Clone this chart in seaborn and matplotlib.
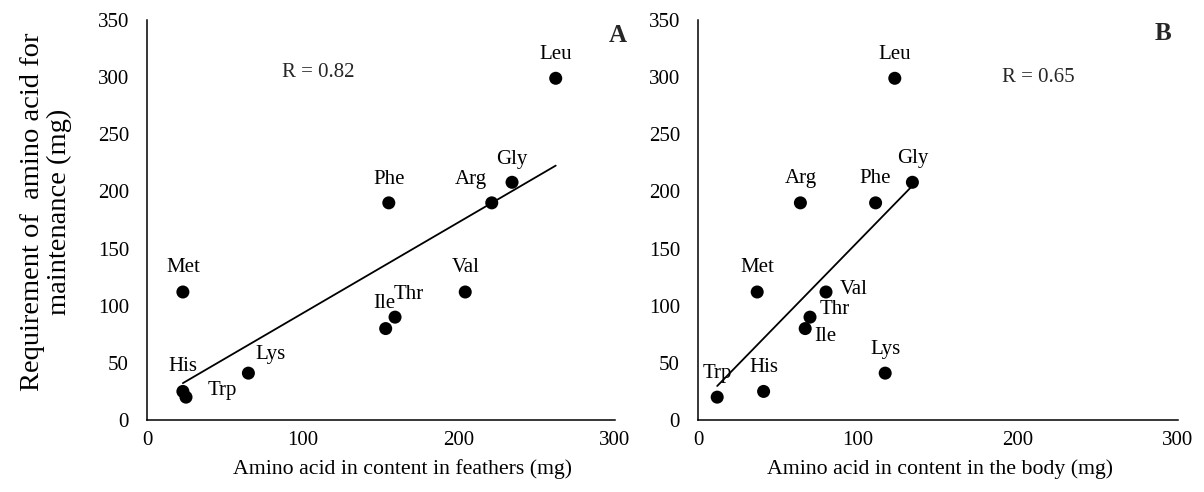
import numpy as np
import pandas as pd
import seaborn as sns
import matplotlib.pyplot as plt

# ---- data ----
amino = ["Leu", "Gly", "Arg", "Phe", "Met", "Val", "Thr", "Ile", "Lys", "His", "Trp"]
requirement = [299, 208, 190, 190, 112, 112, 90, 80, 41, 25, 20]
feathers = [262, 234, 221, 155, 23, 204, 159, 153, 65, 23, 25]
body = [123, 134, 64, 111, 37, 80, 70, 67, 117, 41, 12]
r_text_a = "R = 0.82"
r_text_b = "R = 0.65"
xticks = [0, 100, 200, 300]
yticks = [0, 50, 100, 150, 200, 250, 300, 350]

# label offsets (pixels) per amino acid -- style only
off_a = {"Leu": (0, 24), "Gly": (0, 23), "Arg": (-21, 23), "Phe": (0, 23),
         "Met": (0, 24), "Val": (0, 24), "Thr": (14, 23), "Ile": (-1, 25),
         "Lys": (22, 19), "His": (0, 25), "Trp": (36, 7)}
off_b = {"Leu": (0, 24), "Gly": (0, 24), "Arg": (0, 24), "Phe": (0, 24),
         "Met": (0, 25), "Val": (28, 2), "Thr": (25, 8), "Ile": (20, -8),
         "Lys": (0, 24), "His": (0, 24), "Trp": (0, 24)}

df = pd.DataFrame({"amino": amino, "req": requirement, "feathers": feathers, "body": body})

sns.set_theme(style="white")
plt.rcParams["font.family"] = ["Liberation Serif", "DejaVu Serif"]

W, H = 1204, 492
fig = plt.figure(figsize=(W / 100, H / 100), dpi=100)
axA = fig.add_axes([147 / W, 72 / H, 468 / W, 400 / H])
axB = fig.add_axes([698 / W, 72 / H, 480 / W, 400 / H])

FS = 15

def panel(ax, xcol, offs, rtext, rpos, letter, xlabel, xlab_pos):
    sns.regplot(data=df, x=xcol, y="req", ax=ax, ci=None, truncate=True,
                scatter_kws=dict(s=88, color="black", edgecolor="none", alpha=1),
                line_kws=dict(color="black", lw=1.3))
    for _, row in df.iterrows():
        dx, dy = offs[row["amino"]]
        ax.annotate(row["amino"], (row[xcol], row["req"]), xytext=(dx, dy),
                    textcoords="offset pixels", ha="center", va="center",
                    fontsize=FS, color="black")
    ax.set_xlim(0, 300)
    ax.set_ylim(0, 350)
    ax.set_xticks(xticks)
    ax.set_yticks(yticks)
    ax.tick_params(axis="x", labelsize=FS, length=0, pad=8, colors="black")
    ax.tick_params(axis="y", labelsize=FS, length=0, pad=13, colors="black")
    for s in ["top", "right"]:
        ax.spines[s].set_visible(False)
    for s in ["left", "bottom"]:
        ax.spines[s].set_color("black")
        ax.spines[s].set_linewidth(1.1)
    ax.set_xlabel(xlabel, fontsize=15.7, color="black")
    ax.xaxis.set_label_coords(xlab_pos, -0.098)
    ax.text(rpos[0], rpos[1], rtext, fontsize=FS, ha="center", va="center")
    ax.text(letter[1], letter[2], letter[0], transform=ax.transAxes, fontsize=18,
            fontweight="bold", ha="center", va="center")

panel(axA, "feathers", off_a, r_text_a, (110, 304), ("A", 1.005, 0.962),
      "Amino acid in content in feathers (mg)", 0.545)
panel(axB, "body", off_b, r_text_b, (213, 300), ("B", 0.968, 0.965),
      "Amino acid in content in the body (mg)", 0.505)
axA.set_ylabel("")
axB.set_ylabel("")
fig.text(46 / W, 1 - 212 / H, "Requirement of  amino acid for\nmaintenance (mg)",
         rotation=90, ha="center", va="center", multialignment="center",
         fontsize=20.5, color="black", linespacing=1.1)

fig.savefig("out.png", dpi=100)
